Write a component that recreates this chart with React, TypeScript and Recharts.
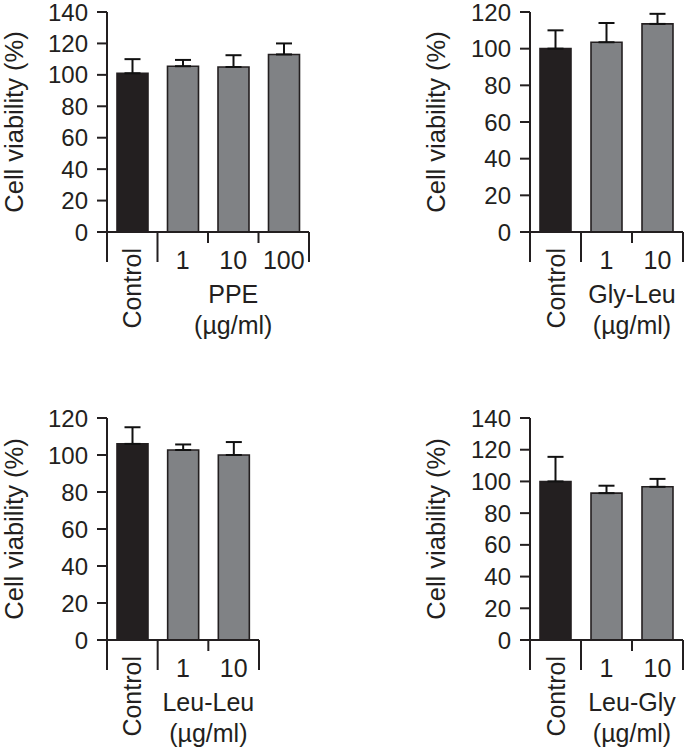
import React from 'react';
import { BarChart, Bar, XAxis, YAxis, ErrorBar, Cell, Label } from 'recharts';

// ---- data ----
const ppeCategories = ['Control', '1', '10', '100'];
const ppeValues = [101, 105.5, 105, 113];
const ppeErrors = [9, 4, 7.5, 7];

const glyLeuCategories = ['Control', '1', '10'];
const glyLeuValues = [100, 103.5, 113.5];
const glyLeuErrors = [10, 10.5, 5.5];

const leuLeuCategories = ['Control', '1', '10'];
const leuLeuValues = [106, 102.7, 100];
const leuLeuErrors = [9, 3, 7];

const leuGlyCategories = ['Control', '1', '10'];
const leuGlyValues = [100, 92.6, 96.6];
const leuGlyErrors = [15.5, 4.7, 5];

const ticks140 = [0, 20, 40, 60, 80, 100, 120, 140];
const ticks120 = [0, 20, 40, 60, 80, 100, 120];

const yLabel = 'Cell viability (%)';
const unitLabel = '(\u00b5g/ml)';

const FONT = '"Liberation Sans", Arial, Helvetica, sans-serif';
const INK = '#231f20';
const GRAY = '#808285';
const LW = 2;

type PanelProps = {
  left: number;
  top: number;
  width: number;
  height: number;
  plotLeft: number;
  plotRight: number;
  plotTop: number;
  plotBottom: number;
  labelX: number;
  categories: string[];
  values: number[];
  errors: number[];
  ticks: number[];
  group: string;
};

function makeXTick(bw: number, n: number, group: string) {
  return (props: any) => {
    const { x, y, index, payload } = props;
    const long = 30;
    const short = 11;
    const leftLen = index <= 1 ? long : short;
    return (
      <g>
        <line x1={x - bw / 2} y1={y} x2={x - bw / 2} y2={y + leftLen} stroke={INK} strokeWidth={LW} />
        {index === n - 1 && (
          <line x1={x + bw / 2} y1={y} x2={x + bw / 2} y2={y + long} stroke={INK} strokeWidth={LW} />
        )}
        {index === 0 ? (
          <text
            x={x + 9}
            y={y + 16}
            transform={`rotate(-90, ${x + 9}, ${y + 16})`}
            textAnchor="end"
            fontSize={25}
            fontFamily={FONT}
            fill={INK}
          >
            {payload.value}
          </text>
        ) : (
          <text x={x} y={y + 37} textAnchor="middle" fontSize={25} fontFamily={FONT} fill={INK}>
            {payload.value}
          </text>
        )}
        {index === 1 && (
          <g>
            <text x={x + ((n - 2) * bw) / 2} y={y + 71} textAnchor="middle" fontSize={25} fontFamily={FONT} fill={INK}>
              {group}
            </text>
            <text x={x + ((n - 2) * bw) / 2} y={y + 102} textAnchor="middle" fontSize={25} fontFamily={FONT} fill={INK}>
              {unitLabel}
            </text>
          </g>
        )}
      </g>
    );
  };
}

const YTick = (props: any) => {
  const { x, y, payload } = props;
  return (
    <text x={x} y={y} dy="0.36em" textAnchor="end" fontSize={24} fontFamily={FONT} fill={INK}>
      {payload.value}
    </text>
  );
};

function Panel(p: PanelProps) {
  const data = p.categories.map((c, i) => ({
    name: c,
    value: p.values[i],
    err: [0, p.errors[i]],
  }));
  const n = p.categories.length;
  const bw = (p.plotRight - p.plotLeft) / n;
  const yMax = p.ticks[p.ticks.length - 1];
  return (
    <div style={{ position: 'absolute', left: p.left, top: p.top, width: p.width, height: p.height }}>
      <BarChart
        width={p.width}
        height={p.height}
        data={data}
        margin={{ top: p.plotTop, right: p.width - p.plotRight, left: 0, bottom: 0 }}
        barSize={31}
      >
        <XAxis
          dataKey="name"
          height={p.height - p.plotBottom}
          axisLine={{ stroke: INK, strokeWidth: LW }}
          tickLine={false}
          tickSize={0}
          tickMargin={0}
          interval={0}
          tick={makeXTick(bw, n, p.group)}
        />
        <YAxis
          width={p.plotLeft}
          domain={[0, yMax]}
          ticks={p.ticks}
          interval={0}
          allowDataOverflow
          tickSize={10}
          tickMargin={9}
          axisLine={{ stroke: INK, strokeWidth: LW }}
          tickLine={{ stroke: INK, strokeWidth: LW }}
          tick={YTick}
        >
          <Label
            content={(lp: any) => {
              const vb = lp.viewBox || {};
              const cy = (vb.y || 0) + (vb.height || 0) / 2;
              return (
                <text
                  x={p.labelX}
                  y={cy}
                  transform={`rotate(-90, ${p.labelX}, ${cy})`}
                  textAnchor="middle"
                  fontSize={25.5}
                  fontFamily={FONT}
                  fill={INK}
                >
                  {yLabel}
                </text>
              );
            }}
          />
        </YAxis>
        <Bar dataKey="value" isAnimationActive={false} stroke={INK} strokeWidth={1.6}>
          {data.map((d, i) => (
            <Cell key={d.name} fill={i === 0 ? INK : GRAY} />
          ))}
          <ErrorBar dataKey="err" width={8} stroke="#111" strokeWidth={2} direction="y" isAnimationActive={false} />
        </Bar>
      </BarChart>
    </div>
  );
}

export default function App() {
  return (
    <div style={{ position: 'absolute', left: 0, top: 0, width: 684, height: 751, background: '#fff' }}>
      <Panel
        left={0} top={0} width={342} height={380}
        plotLeft={107} plotRight={309} plotTop={12} plotBottom={232}
        labelX={23}
        categories={ppeCategories} values={ppeValues} errors={ppeErrors}
        ticks={ticks140} group="PPE"
      />
      <Panel
        left={342} top={0} width={342} height={380}
        plotLeft={188} plotRight={341} plotTop={12} plotBottom={232}
        labelX={103}
        categories={glyLeuCategories} values={glyLeuValues} errors={glyLeuErrors}
        ticks={ticks120} group="Gly-Leu"
      />
      <Panel
        left={0} top={380} width={342} height={371}
        plotLeft={107} plotRight={259} plotTop={38} plotBottom={260}
        labelX={23}
        categories={leuLeuCategories} values={leuLeuValues} errors={leuLeuErrors}
        ticks={ticks120} group="Leu-Leu"
      />
      <Panel
        left={342} top={380} width={342} height={371}
        plotLeft={188} plotRight={341} plotTop={38} plotBottom={260}
        labelX={103}
        categories={leuGlyCategories} values={leuGlyValues} errors={leuGlyErrors}
        ticks={ticks140} group="Leu-Gly"
      />
    </div>
  );
}
